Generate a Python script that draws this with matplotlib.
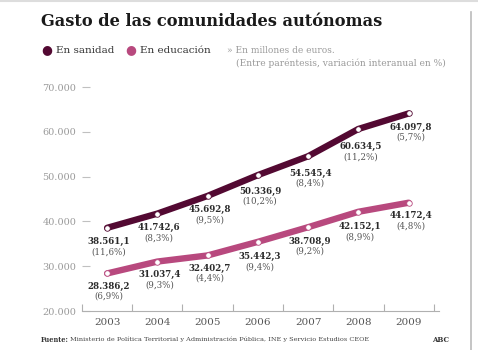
import matplotlib.pyplot as plt
from matplotlib.ticker import FixedLocator

plt.rcParams['font.family'] = ['DejaVu Serif']

# Data (millions of euros)
years = [2003, 2004, 2005, 2006, 2007, 2008, 2009]
sanidad = [38561.1, 41742.6, 45692.8, 50336.9, 54545.4, 60634.5, 64097.8]
sanidad_pct = ["11,6", "8,3", "9,5", "10,2", "8,4", "11,2", "5,7"]
educacion = [28386.2, 31037.4, 32402.7, 35442.3, 38708.9, 42152.1, 44172.4]
educacion_pct = ["6,9", "9,3", "4,4", "9,4", "9,2", "8,9", "4,8"]
y_ticks = [20000, 30000, 40000, 50000, 60000, 70000]

# label drop below each point, in pixels
san_drop = [14, 14, 14, 16, 17, 18, 14]
edu_drop = [13, 13, 13, 15, 14, 15, 13]

C_SAN = '#530932'
C_EDU = '#b8497e'
GREY = '#9a9a9a'


def fmt(v):
    s = f"{v:,.1f}"
    return s.replace(",", "X").replace(".", ",").replace("X", ".")


fig = plt.figure(figsize=(4.78, 3.5), dpi=100)
ax = fig.add_axes([0.1715, 0.1114, 0.7465, 0.64])

for vals, pcts, drops, col in [(sanidad, sanidad_pct, san_drop, C_SAN),
                               (educacion, educacion_pct, edu_drop, C_EDU)]:
    ax.plot(years, vals, color=col, lw=4.6, solid_capstyle='round',
            solid_joinstyle='round', zorder=3)
    ax.plot(years, vals, 'o', ms=4, mfc='white', mec=col, mew=0.6, zorder=4)
    for x, v, p, d in zip(years, vals, pcts, drops):
        ax.annotate(fmt(v), (x, v), xytext=(2, -d), textcoords='offset pixels',
                    ha='center', va='center', fontsize=6.2, fontweight='bold',
                    color='#2a2a2a')
        ax.annotate(f"({p}%)", (x, v), xytext=(2, -d - 10), textcoords='offset pixels',
                    ha='center', va='center', fontsize=6.2, color='#555555')

ax.set_xlim(2002.5, 2009.6)
ax.set_ylim(20000, 70000)
ax.set_yticks(y_ticks)
ax.set_yticklabels([f"{t:,}".replace(",", ".") for t in y_ticks])
ax.set_xticks(years)
ax.xaxis.set_minor_locator(FixedLocator([y + 0.5 for y in range(2002, 2010)]))

for s in ['left', 'right', 'top']:
    ax.spines[s].set_visible(False)
ax.spines['bottom'].set_color('#b0b0b0')
ax.spines['bottom'].set_linewidth(0.8)

ax.tick_params(axis='y', direction='in', length=6, width=0.8, color='#c0c0c0',
               labelsize=7, labelcolor=GREY, pad=4)
ax.tick_params(axis='x', which='major', length=0, labelsize=7.5,
               labelcolor='#555555', pad=5)
ax.tick_params(axis='x', which='minor', direction='in', length=5, width=0.8,
               color='#b0b0b0')

# Title and legend
fig.text(0.086, 0.94, "Gasto de las comunidades autónomas", fontsize=11.7,
         fontweight='bold', color='#1a1a1a', va='center')
fig.text(0.086, 0.857, "●", fontsize=9, color=C_SAN, va='center')
fig.text(0.117, 0.857, "En sanidad", fontsize=7.5, color='#333333', va='center')
fig.text(0.263, 0.857, "●", fontsize=9, color=C_EDU, va='center')
fig.text(0.292, 0.857, "En educación", fontsize=7.5, color='#333333', va='center')
fig.text(0.475, 0.857, "» En millones de euros.", fontsize=6.5, color=GREY,
         va='center')
fig.text(0.494, 0.82, "(Entre paréntesis, variación interanual en %)",
         fontsize=6.6, color=GREY, va='center')

# Footer
fig.text(0.086, 0.03, "Fuente:", fontsize=4.7, fontweight='bold', color='#333333',
         va='center')
fig.text(0.146, 0.03, "Ministerio de Política Territorial y Administración Pública, "
         "INE y Servicio Estudios CEOE", fontsize=4.65, color='#444444', va='center')
fig.text(0.94, 0.03, "ABC", fontsize=5, fontweight='bold', color='#333333',
         va='center', ha='right')

# Frame lines on right and top
fig.add_artist(plt.Line2D([0.985, 0.985], [0.0, 0.965], color='#bbbbbb', lw=1.2))
fig.add_artist(plt.Line2D([0, 1], [0.998, 0.998], color='#dddddd', lw=1.5))

fig.savefig('out.png', dpi=100)
